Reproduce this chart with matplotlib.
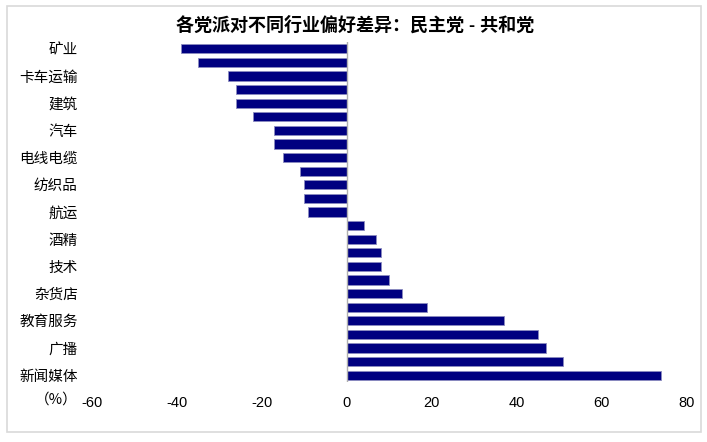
import matplotlib
matplotlib.use("Agg")
import matplotlib.pyplot as plt
import numpy as np
from matplotlib.patches import Rectangle

plt.rcParams['font.family'] = ['Liberation Sans', 'Noto Sans CJK SC']
plt.rcParams['axes.unicode_minus'] = False

# industries top to bottom; only every other one carries a label in the source
industries = ["矿业", "", "卡车运输", "", "建筑", "", "汽车", "", "电线电缆", "",
              "纺织品", "", "航运", "", "酒精", "", "技术", "", "杂货店", "",
              "教育服务", "", "广播", "", "新闻媒体"]
diff = [-39, -35, -28, -26, -26, -22, -17, -17, -15, -11, -10, -10, -9,
        4, 7, 8, 8, 10, 13, 19, 37, 45, 47, 51, 74]
x_ticks = [-60, -40, -20, 0, 20, 40, 60, 80]

fig = plt.figure(figsize=(7.07, 4.42), dpi=100)
ax = fig.add_axes([0.1297, 0.1357, 0.8416, 0.7692])

pos = np.arange(len(diff))
ax.barh(pos, diff, height=0.68, color="#000080", edgecolor="#8c8cc0", linewidth=0.6, zorder=2)

ax.set_ylim(len(diff) - 0.5, -0.5)
ax.set_xlim(-60, 80)
ax.set_yticks(pos)
ax.set_yticklabels(industries, fontsize=10.5)
ax.set_xticks(x_ticks)
ax.set_xticklabels([str(t) for t in x_ticks], fontsize=10.5)
ax.tick_params(axis="y", length=0, pad=10)
ax.tick_params(axis="x", length=0, pad=10)

for s in ax.spines.values():
    s.set_visible(False)
ax.axvline(0, color="#b0b0b0", linewidth=1, zorder=3)

fig.text(0.502, 0.943, "各党派对不同行业偏好差异：民主党 - 共和党", ha="center", va="center",
         fontsize=13, fontweight="bold")
fig.text(78 / 707, 1 - 400 / 442, "（%）", ha="right", va="center", fontsize=10.5,
         family=["Noto Sans CJK SC", "DejaVu Sans"])

# light frame around the whole chart
fig.patches.append(Rectangle((7 / 707, 10 / 442), 694 / 707, 426 / 442, transform=fig.transFigure,
                             fill=False, edgecolor="#d9d9d9", linewidth=1.2))

fig.savefig("out.png", dpi=100, facecolor="white")
